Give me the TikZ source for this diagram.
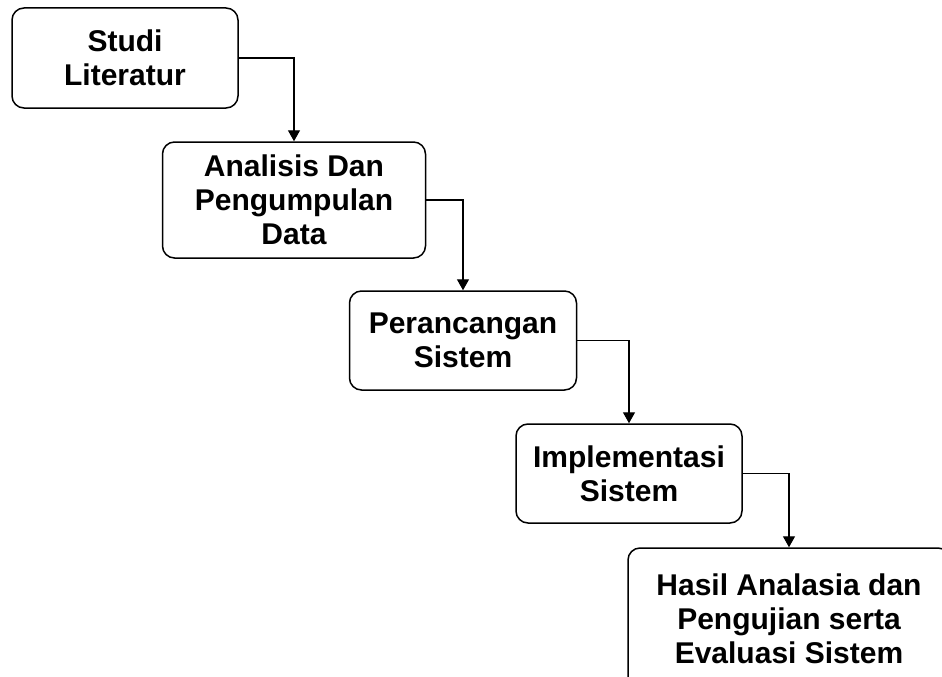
\documentclass[tikz,border=0pt]{standalone}
\usepackage{fontspec}
\setmainfont{Liberation Sans}
\usetikzlibrary{arrows.meta}
\begin{document}
\begin{tikzpicture}[x=1pt,y=-1pt,
  box/.style={draw=black, line width=1.5pt, rounded corners=12pt, fill=white,
    align=center, inner sep=0pt, font=\fontsize{30}{34}\selectfont\bfseries},
  conn/.style={draw=black, line width=1.4pt, -{Triangle[width=12pt,length=11pt]}}]
\useasboundingbox (0,0) rectangle (942,677);
\clip (0,0) rectangle (942,677);
\fill[white] (0,0) rectangle (942,677);
\node[box, minimum width=226pt, minimum height=100pt] (a) at (125,58) {Studi\\Literatur};
\node[box, minimum width=263pt, minimum height=116pt] (b) at (294,200) {Analisis Dan\\Pengumpulan\\Data};
\node[box, minimum width=227pt, minimum height=99pt] (c) at (463,340.5) {Perancangan\\Sistem};
\node[box, minimum width=226pt, minimum height=99pt] (d) at (629,473.5) {Implementasi\\Sistem};
\node[box, minimum width=322pt, minimum height=142pt] (e) at (789,619) {Hasil Analasia dan\\Pengujian serta\\Evaluasi Sistem};
\draw[conn] (a.east) -| (b.north);
\draw[conn] (b.east) -| (c.north);
\draw[conn] (c.east) -| (d.north);
\draw[conn] (d.east) -| (e.north);
\end{tikzpicture}
\end{document}
